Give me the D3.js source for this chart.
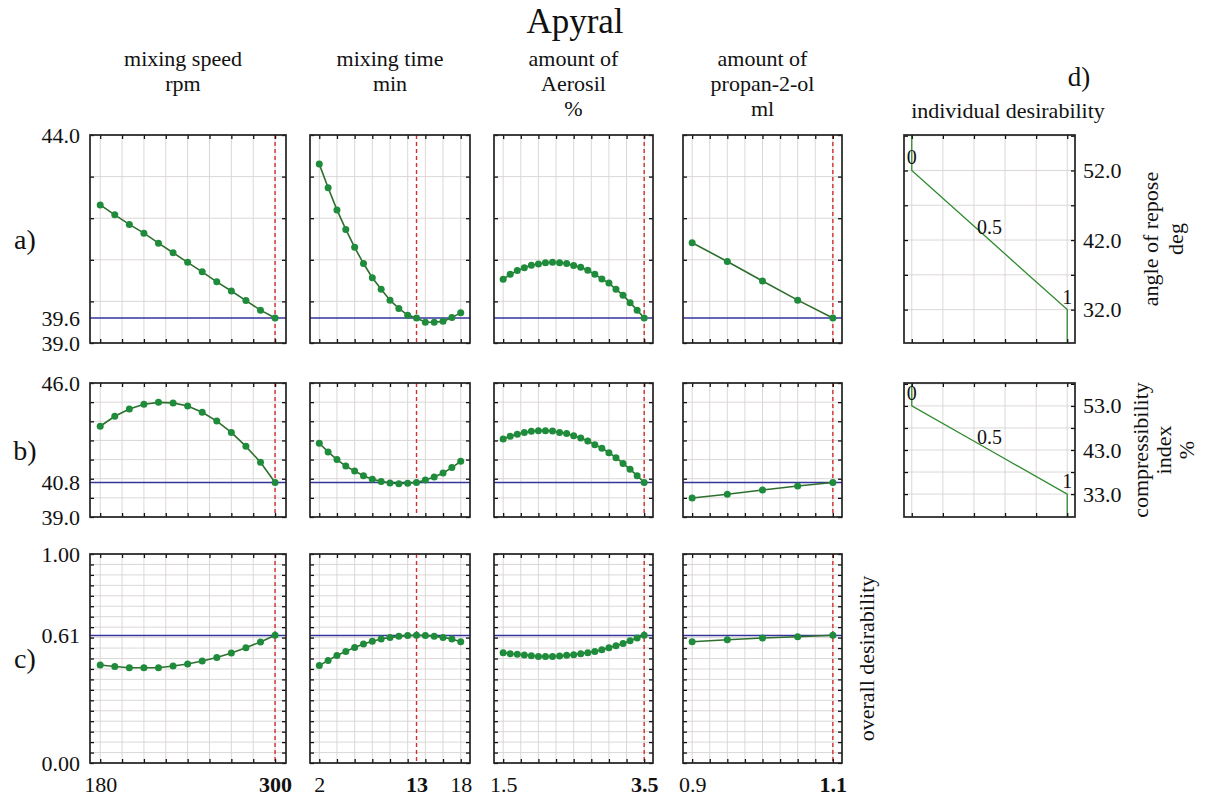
<!DOCTYPE html>
<html><head><meta charset="utf-8">
<script src="https://cdn.jsdelivr.net/npm/d3@7"></script>
<style>
body{margin:0;background:#fff}
text{font-family:"Liberation Serif","Times New Roman",serif;fill:#111}
</style>
</head><body>
<svg id="c" width="1218" height="801"></svg>
<script>
// ---------------- data ----------------
const chartTitle = "Apyral";
const factorTitles = [["mixing speed","rpm"],["mixing time","min"],["amount of","Aerosil","%"],["amount of","propan-2-ol","ml"]];
const rowLetters = ["a)","b)","c)"];

const speedLevels = [180,190,200,210,220,230,240,250,260,270,280,290,300];
const timeLevels = [2,3,4,5,6,7,8,9,10,11,12,13,14,15,16,17,18];
const aerosilLevels = [1.5,1.6,1.7,1.8,1.9,2.0,2.1,2.2,2.3,2.4,2.5,2.6,2.7,2.8,2.9,3.0,3.1,3.2,3.3,3.4,3.5];
const propanolLevels = [0.9,0.95,1.0,1.05,1.1];

// a) angle of repose, deg
const angleBySpeed = [42.32,42.08,41.85,41.64,41.40,41.17,40.94,40.71,40.47,40.25,40.02,39.79,39.60];
const angleByTime = [43.30,42.73,42.20,41.73,41.30,40.91,40.57,40.29,40.03,39.83,39.67,39.60,39.50,39.50,39.52,39.61,39.73];
const angleByAerosil = [40.53,40.65,40.74,40.81,40.87,40.90,40.93,40.94,40.93,40.91,40.86,40.82,40.75,40.65,40.54,40.44,40.29,40.15,39.97,39.79,39.60];
const angleByPropanol = [41.41,40.96,40.49,40.03,39.60];

// b) compressibility index, %
const compBySpeed = [43.74,44.26,44.64,44.89,44.99,44.96,44.80,44.47,44.01,43.42,42.69,41.86,40.80];
const compByTime = [42.85,42.40,42.00,41.66,41.40,41.16,40.97,40.86,40.78,40.74,40.76,40.80,40.93,41.09,41.30,41.58,41.91];
const compByAerosil = [43.07,43.22,43.32,43.42,43.48,43.51,43.51,43.49,43.42,43.36,43.25,43.13,42.97,42.78,42.59,42.36,42.10,41.80,41.49,41.16,40.80];
const compByPropanol = [39.99,40.19,40.41,40.62,40.80];

// c) overall desirability
const desBySpeed = [0.469,0.462,0.456,0.456,0.456,0.464,0.474,0.488,0.505,0.526,0.552,0.579,0.611];
const desByTime = [0.466,0.491,0.514,0.534,0.553,0.569,0.583,0.593,0.601,0.606,0.610,0.611,0.610,0.606,0.601,0.593,0.580];
const desByAerosil = [0.528,0.523,0.520,0.517,0.513,0.510,0.510,0.510,0.512,0.515,0.518,0.523,0.528,0.534,0.542,0.552,0.561,0.572,0.585,0.598,0.611];
const desByPropanol = [0.580,0.590,0.598,0.604,0.611];

const optimumFactor = [300,13,3.5,1.1];
const optimumResponse = [39.6,40.8,0.61];

// tick values / labels
const xGridTicks = [
  [180,195,210,225,240,255,270,285,300],
  [2,4,6,8,10,12,14,16,18],
  [1.5,1.75,2.0,2.25,2.5,2.75,3.0,3.25,3.5],
  [0.9,0.925,0.95,0.975,1.0,1.025,1.05,1.075,1.1]
];
const xTickLabels = [[180,300],[2,13,18],[1.5,3.5],[0.9,1.1]];
const yGridTicks = [
  [39,40,41,42,43,44],
  [39,40,41,42,43,44,45,46],
  [0,0.05,0.1,0.15,0.2,0.25,0.3,0.35,0.4,0.45,0.5,0.55,0.6,0.65,0.7,0.75,0.8,0.85,0.9,0.95,1.0]
];
const yTickLabels = [[39.0,39.6,44.0],[39.0,40.8,46.0],[0.00,0.61,1.00]];
const yLabelFormats = [".1f",".1f",".2f"];

// d) individual desirability
const desirabilityLevels = [0,0.5,1];
const angleDesirabilityMap = [52,42,32];
const compDesirabilityMap = [53,43,33];
const desirGridX = [0,0.2,0.4,0.6,0.8,1.0];
const angleDesirGridY = [32,37,42,47,52,57];
const compDesirGridY = [33,38,43,48,53,58];
const angleDesirLabels = [32,42,52];
const compDesirLabels = [33,43,53];
const dTitles = [["angle of repose","deg"],["compressibility","index","%"]];

// ---------------- layout ----------------
const colBox = [[90,286],[310,470],[494,653],[683,842]];
const rowBox = [[135,343],[383,517],[554,763]];
const xDomains = [[173,307.5],[0.95,19.05],[1.37,3.625],[0.887,1.113]];
const yDomains = [[39,44],[39,46],[0,1]];
const dBox = [904,1075];
const dDomains = [[27.2,57.1],[27.8,58.2]];

const C = {grid:"#d8d2d2", frame:"#222", dot:"#1f8c3b", line:"#2e6f2e", blue:"#34349c", red:"#d43030", dline:"#2f8a2f"};

const svg = d3.select("#c");
const xValues = [speedLevels,timeLevels,aerosilLevels,propanolLevels];
const responses = [
  [angleBySpeed,angleByTime,angleByAerosil,angleByPropanol],
  [compBySpeed,compByTime,compByAerosil,compByPropanol],
  [desBySpeed,desByTime,desByAerosil,desByPropanol]
];

function frameAndTicks(g, x, y, xt, yt, x0, x1, y0, y1){
  g.append("g").selectAll("line").data(xt).join("line")
    .attr("x1",d=>x(d)).attr("x2",d=>x(d)).attr("y1",y0).attr("y2",y1)
    .attr("stroke",C.grid).attr("stroke-width",0.9);
  g.append("g").selectAll("line").data(yt).join("line")
    .attr("y1",d=>y(d)).attr("y2",d=>y(d)).attr("x1",x0).attr("x2",x1)
    .attr("stroke",C.grid).attr("stroke-width",0.9);
}
function inwardTicks(g, x, y, xt, yt, x0, x1, y0, y1){
  const axes = [
    [d3.axisBottom(x).tickValues(xt), `translate(0,${y1})`],
    [d3.axisTop(x).tickValues(xt), `translate(0,${y0})`],
    [d3.axisLeft(y).tickValues(yt), `translate(${x0},0)`],
    [d3.axisRight(y).tickValues(yt), `translate(${x1},0)`]
  ];
  axes.forEach(([ax,tr])=>{
    const a = g.append("g").attr("transform",tr).call(ax.tickSize(-4).tickFormat(""));
    a.select(".domain").remove();
    a.selectAll(".tick line").attr("stroke","#111").attr("stroke-width",1.3);
  });
  g.append("rect").attr("x",x0).attr("y",y0).attr("width",x1-x0).attr("height",y1-y0)
    .attr("fill","none").attr("stroke",C.frame).attr("stroke-width",1.7);
}

for(let r=0;r<3;r++){
  const [y0,y1] = rowBox[r];
  const y = d3.scaleLinear().domain(yDomains[r]).range([y1,y0]);
  for(let c=0;c<4;c++){
    const [x0,x1] = colBox[c];
    const x = d3.scaleLinear().domain(xDomains[c]).range([x0,x1]);
    const g = svg.append("g");
    frameAndTicks(g,x,y,xGridTicks[c],yGridTicks[r],x0,x1,y0,y1);
    g.append("line").attr("x1",x0).attr("x2",x1).attr("y1",y(optimumResponse[r])).attr("y2",y(optimumResponse[r]))
      .attr("stroke",C.blue).attr("stroke-width",1.6);
    g.append("line").attr("x1",x(optimumFactor[c])).attr("x2",x(optimumFactor[c])).attr("y1",y0).attr("y2",y1)
      .attr("stroke",C.red).attr("stroke-width",1.4).attr("stroke-dasharray","4,3");
    const pts = xValues[c].map((v,i)=>[v,responses[r][c][i]]);
    g.append("path").datum(pts).attr("fill","none").attr("stroke",C.line).attr("stroke-width",1.6)
      .attr("d",d3.line().x(d=>x(d[0])).y(d=>y(d[1])));
    g.selectAll("circle").data(pts).join("circle")
      .attr("cx",d=>x(d[0])).attr("cy",d=>y(d[1])).attr("r",3.5).attr("fill",C.dot);
    inwardTicks(g,x,y,xGridTicks[c],yGridTicks[r],x0,x1,y0,y1);

    if(c===0){
      const ya = g.append("g").attr("transform",`translate(${x0},0)`)
        .call(d3.axisLeft(y).tickValues(yTickLabels[r]).tickSize(0).tickPadding(10).tickFormat(d3.format(yLabelFormats[r])));
      ya.select(".domain").remove();
      ya.attr("font-family",null).attr("font-size",null);
      ya.selectAll("text").style("font-size","22px");
    }
    if(r===2){
      const xa = g.append("g").attr("transform",`translate(0,${y1})`)
        .call(d3.axisBottom(x).tickValues(xTickLabels[c]).tickSize(0).tickPadding(13).tickFormat(d=>String(d)));
      xa.select(".domain").remove();
      xa.attr("font-family",null).attr("font-size",null);
      xa.selectAll("text").style("font-size","22px")
        .style("font-weight",d=>d===optimumFactor[c]?"bold":"normal");
    }
  }
  svg.append("text").attr("x",25).attr("y",(y0+y1)/2).attr("dy","0.35em")
    .attr("text-anchor","middle").style("font-size","28px").text(rowLetters[r]);
}

// column titles
factorTitles.forEach((lines,c)=>{
  const cx = (colBox[c][0]+colBox[c][1])/2 - (c===0?5:0);
  lines.forEach((t,i)=>{
    svg.append("text").attr("x",cx).attr("y",66+i*25).attr("text-anchor","middle")
      .style("font-size","22px").text(t);
  });
});
svg.append("text").attr("x",575).attr("y",33).attr("text-anchor","middle").style("font-size","35px").text(chartTitle);

// overall desirability label
svg.append("text").attr("transform",`translate(866,${(rowBox[2][0]+rowBox[2][1])/2}) rotate(-90)`)
  .attr("dy","0.35em").attr("text-anchor","middle").style("font-size","22px").text("overall desirability");

// d) panels
svg.append("text").attr("x",1079).attr("y",86).attr("text-anchor","middle").style("font-size","27px").text("d)");
svg.append("text").attr("x",1008).attr("y",118).attr("text-anchor","middle").style("font-size","22px").text("individual desirability");

const dMaps = [angleDesirabilityMap, compDesirabilityMap];
const dGridY = [angleDesirGridY, compDesirGridY];
const dLabels = [angleDesirLabels, compDesirLabels];
const dTitleX = [[1150,1175],[1140,1163,1186]];
for(let k=0;k<2;k++){
  const [y0,y1] = rowBox[k];
  const [x0,x1] = dBox;
  const x = d3.scaleLinear().domain([-0.05,1.05]).range([x0,x1]);
  const y = d3.scaleLinear().domain(dDomains[k]).range([y1,y0]);
  const g = svg.append("g");
  frameAndTicks(g,x,y,desirGridX,dGridY[k],x0,x1,y0,y1);
  const curve = [[desirabilityLevels[0], dDomains[k][1]]]
    .concat(desirabilityLevels.map((d,i)=>[d,dMaps[k][i]]))
    .concat([[desirabilityLevels[2], dDomains[k][0]]]);
  g.append("path").datum(curve).attr("fill","none").attr("stroke",C.dline).attr("stroke-width",1.3)
    .attr("d",d3.line().x(d=>x(d[0])).y(d=>y(d[1])));
  g.selectAll("text.dl").data(desirabilityLevels).join("text").attr("class","dl")
    .attr("x",d=>x(d)).attr("y",(d,i)=>y(dMaps[k][i])-6).attr("text-anchor","middle")
    .style("font-size","20px").text(d=>String(d));
  inwardTicks(g,x,y,desirGridX,dGridY[k],x0,x1,y0,y1);
  const ya = g.append("g").attr("transform",`translate(${x1},0)`)
    .call(d3.axisRight(y).tickValues(dLabels[k]).tickSize(0).tickPadding(8).tickFormat(d3.format(".1f")));
  ya.select(".domain").remove();
  ya.attr("font-family",null).attr("font-size",null);
  ya.selectAll("text").style("font-size","22px");
  dTitles[k].forEach((t,i)=>{
    svg.append("text").attr("transform",`translate(${dTitleX[k][i]},${(y0+y1)/2}) rotate(-90)`)
      .attr("dy","0.35em").attr("text-anchor","middle").style("font-size","22px").text(t);
  });
}
</script>
</body></html>
